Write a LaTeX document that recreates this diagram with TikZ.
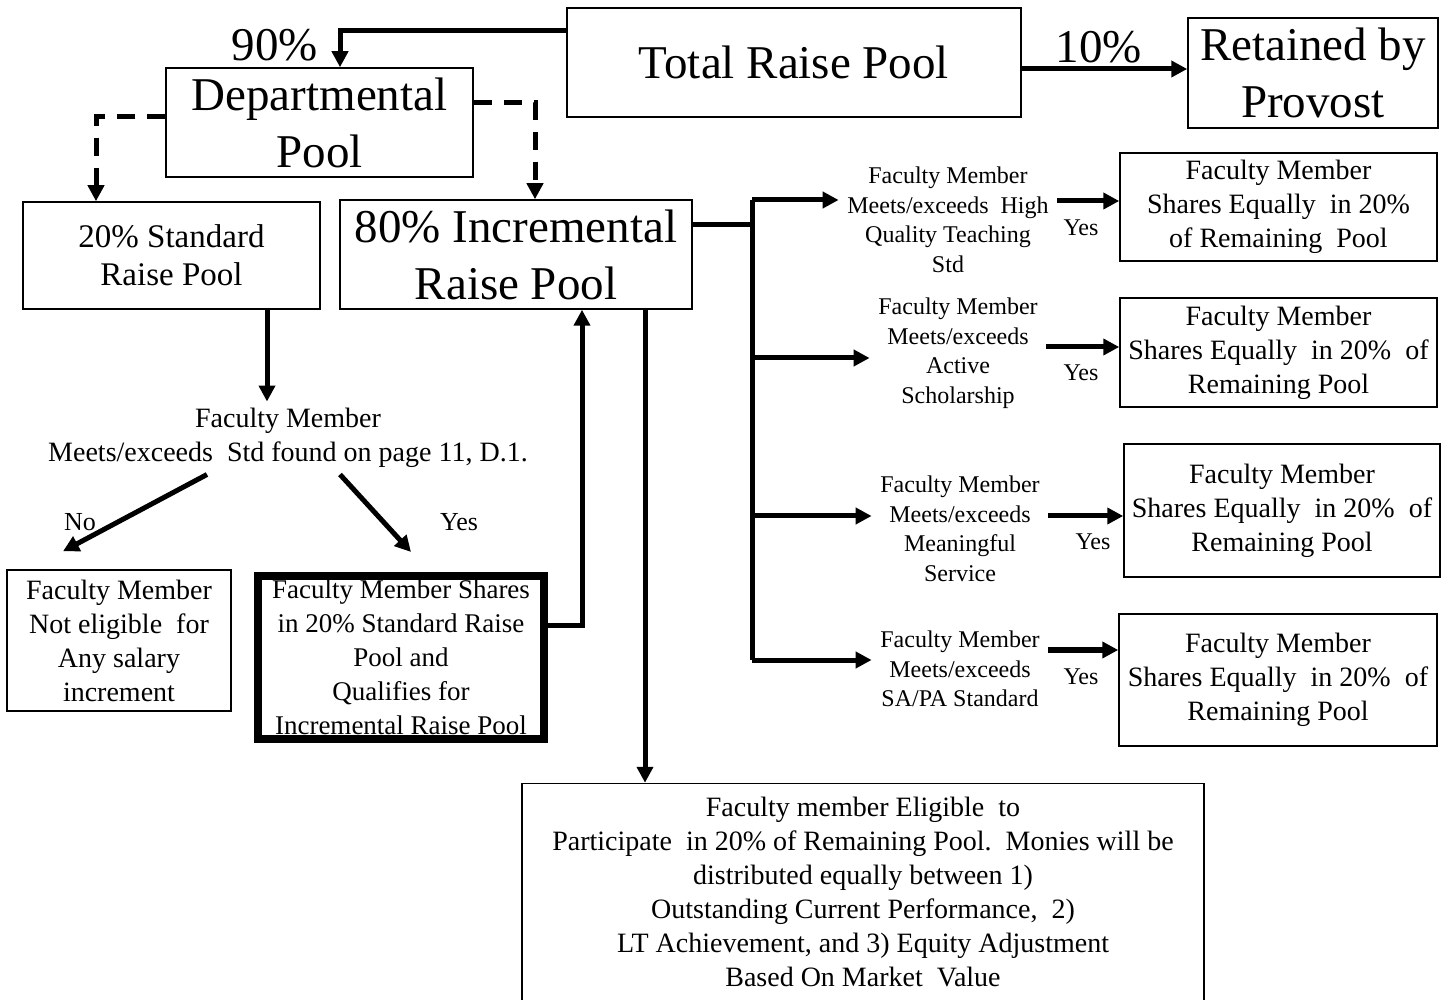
\documentclass[tikz,border=0pt]{standalone}
\usepackage{fontspec}
\setmainfont{Liberation Serif}
\usetikzlibrary{arrows.meta}
\usetikzlibrary{calc}

\begin{document}
\begin{tikzpicture}[x=0.5pt, y=-0.5pt, line width=0.75pt,
    box/.style={draw, align=center, inner sep=0pt},
    big/.style={font=\fontsize{23.5}{28.5}\selectfont},
    mid/.style={font=\fontsize{14}{17}\selectfont},
    small/.style={font=\fontsize{12}{14.75}\selectfont},
    flow/.style={line width=2.5pt, -{Triangle[length=8pt,width=8pt]}},
    dashflow/.style={flow, dash pattern=on 9pt off 6pt}]
    \useasboundingbox (0,0) rectangle (1448,1000);

    % Pools
    \node[box, big, minimum width=227pt, minimum height=54.5pt] (total) at (794,62.5) {Total Raise Pool};
    \node[box, big, minimum width=125pt, minimum height=55pt] (provost) at (1313,73) {Retained by\\Provost};
    \node[box, big, minimum width=153.5pt, minimum height=54.5pt] (dept) at (319.5,122.5) {Departmental\\Pool};
    \node[box, minimum width=148.5pt, minimum height=53.5pt, font=\fontsize{16.5}{19}\selectfont] (std) at (171.5,255.5) {20\% Standard\\Raise Pool};
    \node[box, big, minimum width=176pt, minimum height=54.5pt] (incr) at (516,254.5) {80\% Incremental\\Raise Pool};

    \node[big] (p90) at (275,45) {90\%};
    \node[big] (p10) at (1099,47) {10\%};

    % Standard raise
    \node[mid, align=center, inner sep=3pt] (decide) at (288,438) {Faculty Member\\Meets/exceeds\ \ Std found on page 11, D.1.};
    \node[box, mid, minimum width=112pt, minimum height=70.5pt] (noelig) at (119,640.5) {Faculty Member\\Not eligible\ \ for\\Any salary\\increment};
    \node[box, line width=4pt, minimum width=143pt, minimum height=81.5pt, font=\fontsize{13.5}{17}\selectfont] (shares) at (401,657.5) {Faculty Member Shares\\in 20\% Standard Raise\\Pool and\\Qualifies for\\Incremental Raise Pool};
    \node[font=\fontsize{13}{15}\selectfont] (no) at (80,522) {No};
    \node[font=\fontsize{13}{15}\selectfont] (yes) at (459,522) {Yes};

    % Incremental raise
    \node[small, align=center, inner xsep=4pt] (c1) at (948,220) {Faculty Member\\Meets/exceeds\ \ High\\Quality Teaching\\Std};
    \node[small, align=center, inner xsep=4pt] (c2) at (958,353) {Faculty Member\\Meets/exceeds\\Active\\Scholarship};
    \node[small, align=center, inner xsep=4pt] (c3) at (960,529) {Faculty Member\\Meets/exceeds\\Meaningful\\Service};
    \node[small, align=center, inner xsep=4pt] (c4) at (960,669) {Faculty Member\\Meets/exceeds\\SA/PA Standard};

    \node[box, mid, minimum width=158.5pt, minimum height=54pt] (r1) at (1278.5,207) {Faculty Member\\Shares Equally\ \ in 20\%\\of Remaining\ \ Pool};
    \node[box, mid, minimum width=158.5pt, minimum height=54.5pt] (r2) at (1278.5,352.5) {Faculty Member\\Shares Equally\ \ in 20\%\ \ of\\Remaining Pool};
    \node[box, mid, minimum width=158pt, minimum height=66.5pt] (r3) at (1282,510.5) {Faculty Member\\Shares Equally\ \ in 20\%\ \ of\\Remaining Pool};
    \node[box, mid, minimum width=159pt, minimum height=66pt] (r4) at (1278,680) {Faculty Member\\Shares Equally\ \ in 20\%\ \ of\\Remaining Pool};

    \node[small] (y1) at (1081,228) {Yes};
    \node[small] (y2) at (1081,373) {Yes};
    \node[small] (y3) at (1093,542) {Yes};
    \node[small] (y4) at (1081,677) {Yes};

    \node[box, mid, minimum width=341pt, minimum height=108.5pt] (elig) at (863,892) {Faculty member Eligible\ \ to\\Participate\ \ in 20\% of Remaining Pool.\ \ Monies will be\\distributed equally between 1)\\Outstanding Current Performance,\ \ 2)\\LT Achievement, and 3) Equity Adjustment\\Based On Market\ \ Value};

    % Connectors
    \draw[flow] (total.west |- 0,31) -| ($(dept.north)+(20.5,0)$);
    \draw[flow] (total.east |- 0,69) -- (provost.west |- 0,69);
    \draw[dashflow] (dept.west |- 0,117) -| (std.north -| 96,0);
    \draw[dashflow] (dept.east |- 0,103) -| (incr.north -| 535,0);

    \draw[flow] (std.south -| 267,0) -- (decide.north -| 267,0);
    \draw[flow] (decide.south -| 207,0) -- ($(noelig.north)+(-56,-18)$);
    \draw[flow] (decide.south -| 340,0) -- ($(shares.north)+(10,-20)$);
    \draw[flow] (shares.east |- 0,626) -| (incr.south -| 582,0);
    \draw[flow] (incr.south -| 645,0) -- (elig.north -| 645,0);

    \coordinate (j0) at (752,225);
    \coordinate (j1) at (752,200);
    \coordinate (j2) at (752,358);
    \coordinate (j3) at (752,516);
    \coordinate (j4) at (752,660);
    \draw[line width=2.5pt] (incr.east |- j0) -- (j0);
    \draw[line width=2.5pt] (j1) -- (j4);
    \draw[flow] (j1) -- (j1 -| c1.west);
    \draw[flow] (j2) -- (j2 -| c2.west);
    \draw[flow] (j3) -- (j3 -| c3.west);
    \draw[flow] (j4) -- (j4 -| c4.west);

    \draw[flow] (c1.east |- 0,201) -- (r1.west |- 0,201);
    \draw[flow] (c2.east |- 0,347) -- (r2.west |- 0,347);
    \draw[flow] (c3.east |- 0,516) -- (r3.west |- 0,516);
    \draw[flow] (c4.east |- 0,650) -- (r4.west |- 0,650);
\end{tikzpicture}
\end{document}
